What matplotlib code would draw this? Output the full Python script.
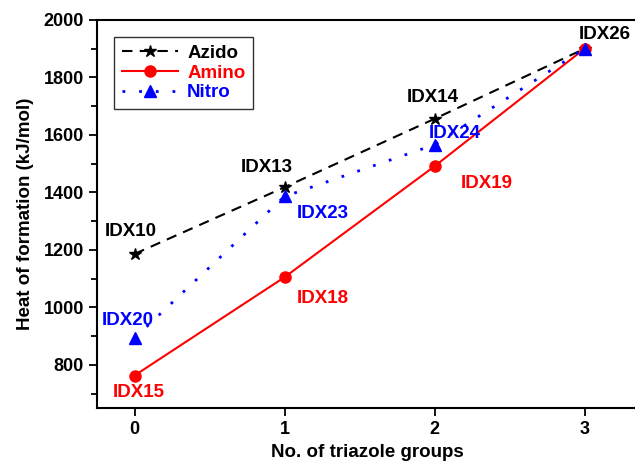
import matplotlib.pyplot as plt
from matplotlib.ticker import MultipleLocator

plt.rcParams["font.family"] = ["Liberation Sans", "DejaVu Sans"]
plt.rcParams["font.weight"] = "bold"

n_triazole = [0, 1, 2, 3]
azido = [1186, 1418, 1656, 1900]
amino = [763, 1105, 1491, 1900]
nitro = [893, 1386, 1566, 1900]

azido_labels = ["IDX10", "IDX13", "IDX14", "IDX26"]
amino_labels = ["IDX15", "IDX18", "IDX19", None]
nitro_labels = ["IDX20", "IDX23", "IDX24", None]

# label offsets in pixels (dx right, dy up) from each point
azido_off = [(-4, 22), (-18, 20), (-2, 21), (20, 14)]
amino_off = [(4, -17), (38, -21), (52, -17), None]
nitro_off = [(-7, 18), (38, -17), (20, 11), None]

fig = plt.figure(figsize=(6.35, 4.63), dpi=100)
ax = fig.add_axes([97 / 635, 1 - 408 / 463, 540 / 635, 388 / 463])

ax.plot(n_triazole, azido, color="black", linestyle=(0, (5, 3.5)), linewidth=1.5,
        marker="*", markersize=9, label="Azido")
ax.plot(n_triazole, amino, color="red", linestyle="-", linewidth=1.5,
        marker="o", markersize=8, label="Amino")
ax.plot(n_triazole, nitro, color="blue", linestyle=(0, (1, 5)), linewidth=2,
        marker="^", markersize=8.5, label="Nitro")

px = 72 / 100
for ys, labels, offs, col in [(azido, azido_labels, azido_off, "black"),
                              (amino, amino_labels, amino_off, "red"),
                              (nitro, nitro_labels, nitro_off, "blue")]:
    for x, y, lab, off in zip(n_triazole, ys, labels, offs):
        if lab is None:
            continue
        ax.annotate(lab, (x, y), xytext=(off[0] * px, off[1] * px),
                    textcoords="offset points", ha="center", va="center",
                    fontsize=13.5, fontweight="bold", color=col)

ax.set_xlim(-0.25, 3.35)
ax.set_ylim(650, 2000)
ax.set_xticks(n_triazole)
ax.yaxis.set_major_locator(MultipleLocator(200))
ax.yaxis.set_minor_locator(MultipleLocator(100))
ax.tick_params(axis="both", which="major", direction="out", length=6, width=1.3,
               labelsize=13)
ax.tick_params(axis="y", which="minor", direction="out", length=4, width=1.3)
for s in ["left", "bottom", "top"]:
    ax.spines[s].set_linewidth(1.5)
ax.spines["right"].set_visible(False)

ax.set_xlabel("No. of triazole groups", fontsize=13.5, fontweight="bold", labelpad=4)
ax.set_ylabel("Heat of formation (kJ/mol)", fontsize=13.5, fontweight="bold", labelpad=7)

leg = ax.legend(loc="upper left", bbox_to_anchor=(17 / 540, 1 - 17 / 388),
                borderaxespad=0, fontsize=13.5, frameon=True, fancybox=False,
                edgecolor="black", handlelength=3, borderpad=0.4,
                labelspacing=0.15, handletextpad=0.5)
leg.get_frame().set_linewidth(1.0)
for t, c in zip(leg.get_texts(), ["black", "red", "blue"]):
    t.set_color(c)
    t.set_fontweight("bold")

fig.savefig("out.png", dpi=100)
